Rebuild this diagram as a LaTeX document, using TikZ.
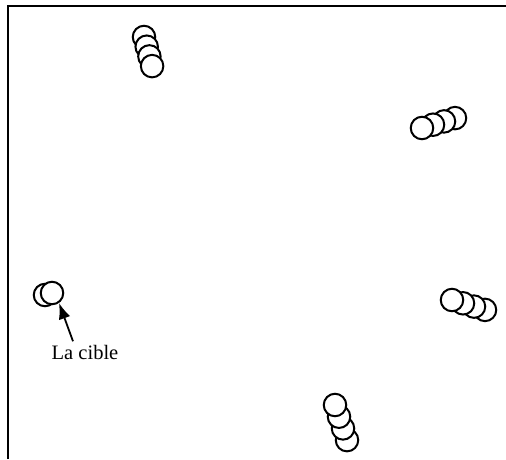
\documentclass[tikz,border=0pt]{standalone}
\usepackage{fontspec}
\setmainfont{Liberation Serif}
\usetikzlibrary{arrows.meta}

\tikzset{
  bille/.style={circle, draw, fill=white, line width=2pt, minimum size=22.5pt, inner sep=0pt},
  fleche/.style={-{Latex[length=16pt,width=12pt]}, line width=1.8pt},
}

\begin{document}
\begin{tikzpicture}[x=1pt,y=-1pt]
\useasboundingbox (0,0) rectangle (506,459);
\draw[line width=2pt] (7.5,459) -- (7.5,6) -- (506,6);

% groupes de billes, la plus en avant tracee en dernier
\foreach \i in {0,...,3}
  \node[bille] (a\i) at ({144+2.7*\i},{37+9.7*\i}) {};
\foreach \i in {3,2,1,0}
  \node[bille] (b\i) at ({422+11*\i},{128-3.3*\i}) {};
\foreach \i in {3,2,1,0}
  \node[bille] (c\i) at ({452+11*\i},{300+3.3*\i}) {};
\foreach \i in {3,2,1,0}
  \node[bille] (d\i) at ({335+4*\i},{405+11.7*\i}) {};

% la cible
\node[bille] (t0) at (45,295) {};
\node[bille] (t1) at (52,293) {};
\node[font=\fontsize{20.5}{24}\selectfont] (cible) at (85,352) {La cible};
\draw[fleche] ([xshift=-12pt]cible.north) -- (t1.-55);
\end{tikzpicture}
\end{document}
